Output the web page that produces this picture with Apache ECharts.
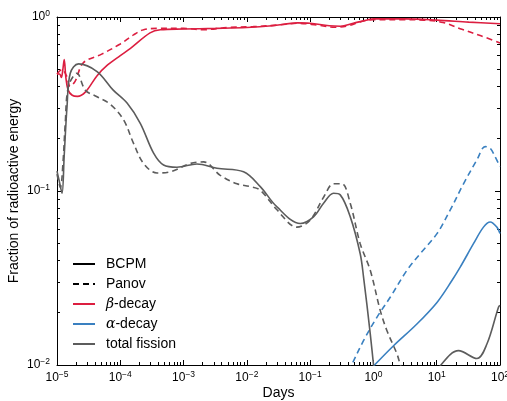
<!DOCTYPE html>
<html><head><meta charset="utf-8">
<script src="https://cdn.jsdelivr.net/npm/echarts@6/dist/echarts.min.js"></script>
<style>html,body{margin:0;padding:0;background:#fff}#c{width:507px;height:401px}</style>
</head><body><div id="c"></div><script>
const xTicks = [1e-5, 1e-4, 1e-3, 1e-2, 1e-1, 1, 10, 100];
const yTicks = [0.01, 0.1, 1];
const betaBCPM = [[1.0e-5,0.47],[1.1e-5,0.47],[1.17e-5,0.45],[1.23e-5,0.49],[1.3e-5,0.57],[1.38e-5,0.45],[1.5e-5,0.38],[1.74e-5,0.355],[2.1e-5,0.35],[2.8e-5,0.37],[4.3e-5,0.46],[6.3e-5,0.53],[1e-4,0.60],[1.45e-4,0.66],[2.95e-4,0.81],[4.3e-4,0.845],[1e-3,0.853],[3.2e-3,0.86],[1e-2,0.87],[2.5e-2,0.89],[6.3e-2,0.925],[0.1,0.92],[0.2,0.89],[0.3,0.885],[0.48,0.92],[0.8,0.962],[1,0.975],[3.2,0.975],[10,0.96],[32,0.935],[100,0.915]];
const betaPanov = [[1.0e-5,0.47],[1.2e-5,0.50],[1.41e-5,0.46],[1.62e-5,0.40],[1.95e-5,0.43],[2.6e-5,0.545],[5e-5,0.61],[1e-4,0.70],[1.62e-4,0.79],[2.34e-4,0.845],[4e-4,0.86],[1e-3,0.86],[2e-3,0.845],[5e-3,0.87],[1.26e-2,0.88],[3.2e-2,0.90],[6.3e-2,0.92],[0.126,0.90],[0.25,0.873],[0.4,0.89],[0.63,0.94],[1,0.965],[3.2,0.965],[6.3,0.96],[12.6,0.93],[25,0.85],[50,0.78],[100,0.71]];
const fissionBCPM = [[1.0e-5,0.13],[1.08e-5,0.115],[1.2e-5,0.097],[1.3e-5,0.16],[1.44e-5,0.305],[1.62e-5,0.475],[2.19e-5,0.538],[4.29e-5,0.486],[7.74e-5,0.38],[1.28e-4,0.32],[2.07e-4,0.245],[3.36e-4,0.165],[4.83e-4,0.141],[7.87e-4,0.137],[1.63e-3,0.143],[3.37e-3,0.135],[8.87e-3,0.129],[1.63e-2,0.106],[2.99e-2,0.081],[6.98e-2,0.065],[0.113,0.071],[0.163,0.085],[0.234,0.097],[0.299,0.095],[0.431,0.071],[0.618,0.0436],[0.698,0.032],[0.891,0.0151],[1.05,0.0085],[3,'-'],[10.5,0.0088],[11.4,0.0099],[22.1,0.0121],[43.2,0.0109],[62.1,0.0132],[94.6,0.0215],[100,0.022]];
const fissionPanov = [[1.0e-5,0.125],[1.13e-5,0.105],[1.25e-5,0.15],[1.35e-5,0.245],[1.52e-5,0.40],[2.07e-5,0.475],[2.8e-5,0.38],[4.29e-5,0.348],[6.95e-5,0.315],[1.13e-4,0.256],[1.62e-4,0.188],[2.33e-4,0.144],[3.8e-4,0.127],[6.17e-4,0.129],[1.28e-3,0.144],[2.07e-3,0.147],[3.8e-3,0.123],[6.98e-3,0.110],[1.13e-2,0.106],[1.63e-2,0.101],[2.99e-2,0.078],[6.18e-2,0.062],[0.1,0.068],[0.163,0.092],[0.234,0.110],[0.318,0.110],[0.43,0.085],[0.618,0.0498],[0.891,0.035],[1.28,0.0206],[1.63,0.0158],[2.35,0.0116],[2.65,0.0101],[3.16,0.0085]];
const alphaBCPM = [[1.0,0.0098],[1.07,0.0101],[2.08,0.0129],[4.86,0.0172],[10.1,0.0229],[17.4,0.0306],[23.5,0.0365],[38.1,0.0498],[54.8,0.062],[70,0.0664],[89.3,0.062],[100,0.057]];
const alphaPanov = [[0.4,0.0092],[0.457,0.0101],[0.697,0.0138],[1.135,0.0188],[1.84,0.0245],[3.38,0.035],[5.48,0.0436],[10.1,0.0569],[16.3,0.0776],[26.5,0.110],[43.2,0.151],[58.3,0.18],[70,0.176],[84,0.157],[100,0.138]];

const RED = '#dc1e40', BLUE = '#3a80c0', GREY = '#5c5c5c';
const FONT = 'Liberation Sans, Arial, sans-serif';

function minorOf(majors){
  const out = [];
  for (let i = 0; i < majors.length - 1; i++) for (let k = 2; k <= 9; k++) out.push(majors[i] * k);
  return out;
}
const xMinor = minorOf(xTicks), yMinor = minorOf(yTicks);

function expFmt(v){
  const e = Math.round(Math.log10(v));
  return '{b|10}{s|' + (e < 0 ? '\u2212' + (-e) : e) + '}';
}
const rich = {
  b: {fontSize: 12, fontFamily: FONT, color: '#000'},
  s: {fontSize: 8.5, fontFamily: FONT, color: '#000', padding: [0, 0, 7, 0]}
};

function axis(kind, pos, ticks, len, labels, extra){
  const a = {
    type: 'log', logBase: 10, position: pos,
    min: kind === 'x' ? 1e-5 : 0.01, max: kind === 'x' ? 100 : 1,
    axisLine: {show: true, onZero: false, lineStyle: {color: '#000', width: 1}},
    axisTick: {show: true, inside: true, length: len, customValues: ticks, lineStyle: {color: '#000', width: 1}},
    axisLabel: labels ? {show: true, customValues: ticks, formatter: expFmt, rich: rich, margin: labels} : {show: false},
    splitLine: {show: false}, minorTick: {show: false}, minorSplitLine: {show: false}
  };
  return Object.assign(a, extra || {});
}

function line(name, data, color, dashed){
  return {
    name: name, type: 'line', data: data, xAxisIndex: 0, yAxisIndex: 0,
    showSymbol: false, symbol: 'none', smooth: 0.35, clip: true, connectNulls: false,
    lineStyle: {color: color, width: 1.6, type: dashed ? [6, 4] : 'solid'},
    itemStyle: {color: color}, z: 3
  };
}

const chart = echarts.init(document.getElementById('c'), null, {renderer: 'canvas'});
chart.setOption({
  animation: false,
  backgroundColor: '#fff',
  grid: {left: 57, right: 7, top: 17, bottom: 36, containLabel: false, outerBoundsMode: 'none'},
  xAxis: [
    axis('x', 'bottom', xTicks, 5, 5, {name: 'Days', nameLocation: 'middle', nameGap: 21, nameMoveOverlap: false, nameTextStyle: {fontSize: 14, fontFamily: FONT, color: '#000'}}),
    axis('x', 'top', xTicks, 5, 0),
    axis('x', 'bottom', xMinor, 3, 0, {axisLine: {show: false, onZero: false}}),
    axis('x', 'top', xMinor, 3, 0, {axisLine: {show: false, onZero: false}})
  ],
  yAxis: [
    axis('y', 'left', yTicks, 5, 7, {name: 'Fraction of radioactive energy', nameLocation: 'middle', nameGap: 36, nameMoveOverlap: false, nameTextStyle: {fontSize: 14, fontFamily: FONT, color: '#000'}}),
    axis('y', 'right', yTicks, 5, 0),
    axis('y', 'left', yMinor, 3, 0, {axisLine: {show: false, onZero: false}}),
    axis('y', 'right', yMinor, 3, 0, {axisLine: {show: false, onZero: false}})
  ],
  legend: {
    show: true, orient: 'vertical', left: 72, top: 257, padding: 0,
    itemWidth: 22, itemHeight: 14, itemGap: 6,
    data: ['BCPM', 'Panov', '\u03b2-decay', '\u03b1-decay', 'total fission'],
    itemStyle: {opacity: 0},
    textStyle: {fontSize: 14, fontFamily: FONT, color: '#000', padding: [0, 0, 0, 6],
      rich: {i: {fontSize: 14, fontFamily: 'DejaVu Serif, serif', fontStyle: 'italic', color: '#000'}, n: {fontSize: 14, fontFamily: FONT, color: '#000'}}},
    formatter: function(n){
      if (n === '\u03b2-decay') return '{i|\u03b2}{n|-decay}';
      if (n === '\u03b1-decay') return '{i|\u03b1}{n|-decay}';
      return n;
    },
    selectedMode: false
  },
  series: [
    line('BCPM', [], '#000', false),
    line('Panov', [], '#000', true),
    line('\u03b2-decay', betaBCPM, RED, false),
    line('\u03b2-decay', betaPanov, RED, true),
    line('\u03b1-decay', alphaBCPM, BLUE, false),
    line('\u03b1-decay', alphaPanov, BLUE, true),
    line('total fission', fissionBCPM, GREY, false),
    line('total fission', fissionPanov, GREY, true)
  ]
});
</script></body></html>
